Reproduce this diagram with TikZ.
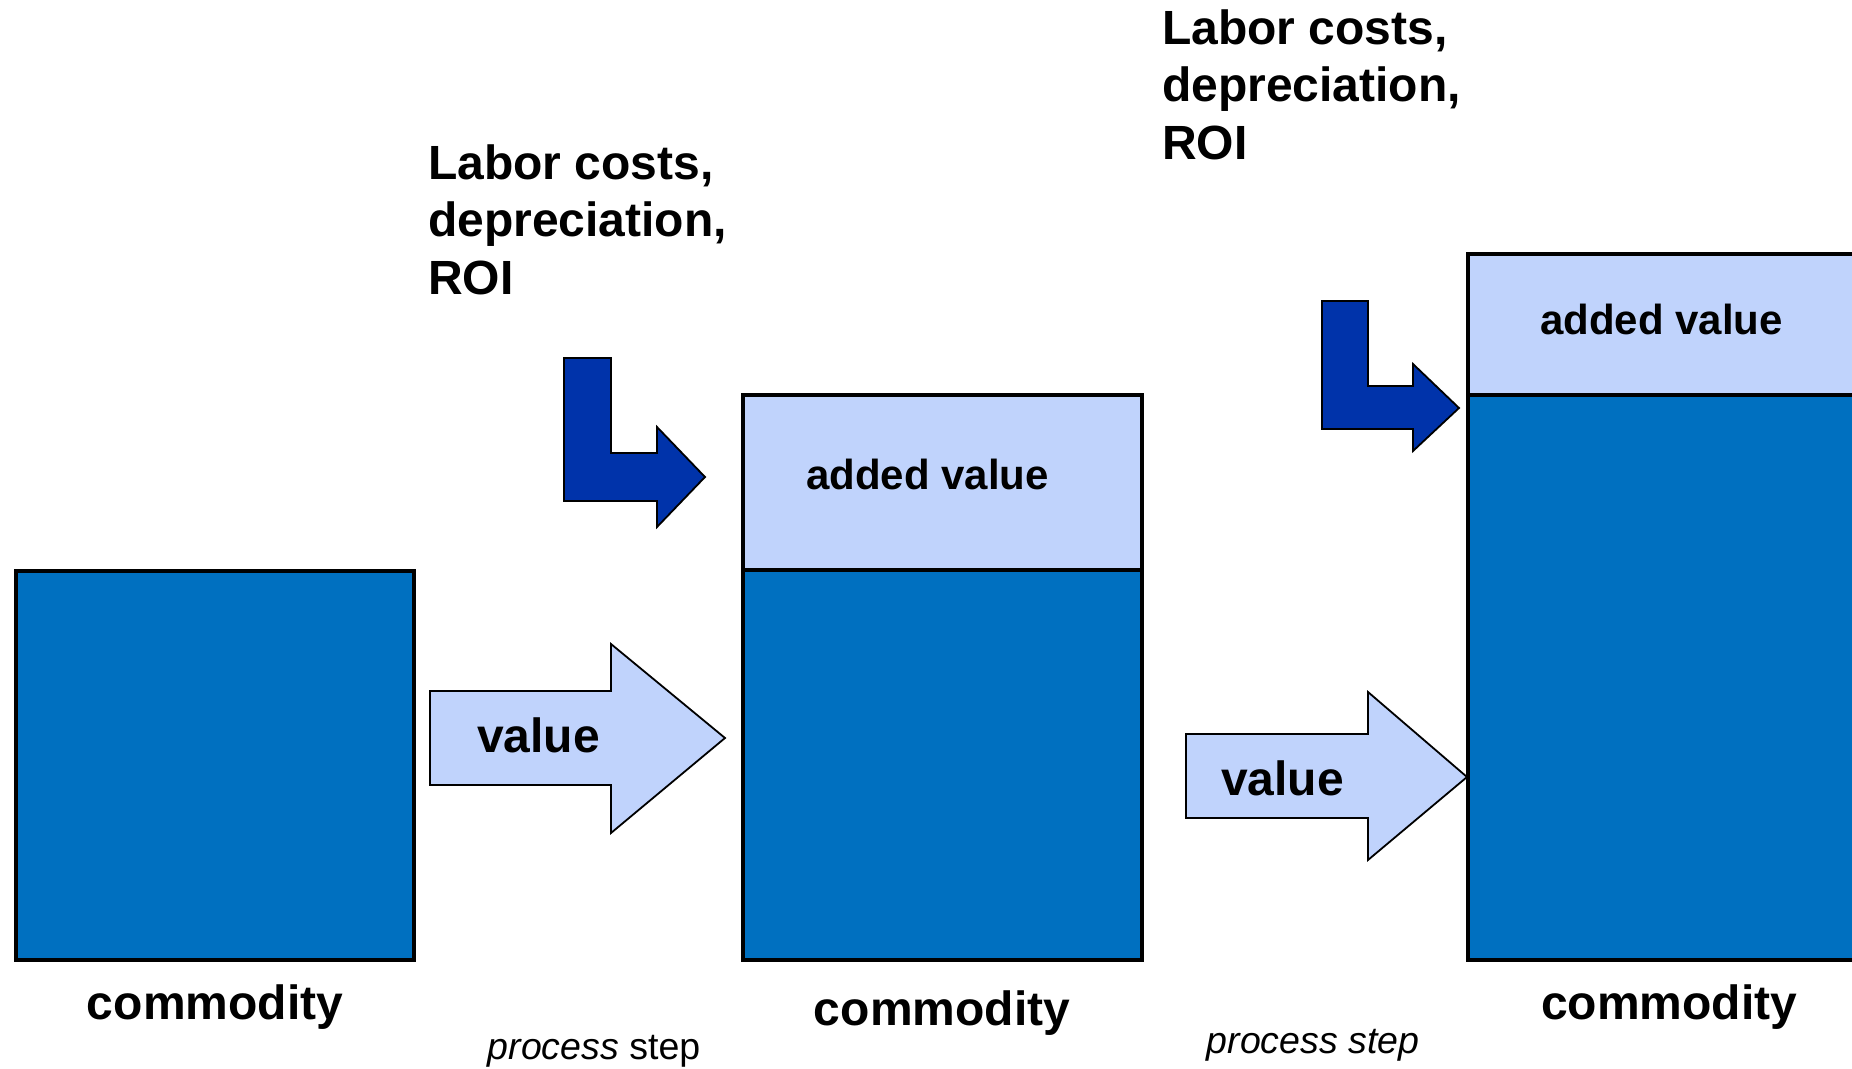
\documentclass[tikz,border=0pt]{standalone}
\usepackage{fontspec}
\setmainfont{Liberation Sans}
\definecolor{darkfill}{HTML}{0070C0}
\definecolor{lightfill}{HTML}{C0D3FC}
\definecolor{bentfill}{HTML}{0033AA}
\begin{document}
\begin{tikzpicture}[x=1pt,y=-1pt,
  box/.style={draw=black,line width=4pt,fill=darkfill,rectangle,inner sep=0pt,outer sep=0pt,anchor=north west},
  topbox/.style={draw=black,line width=4pt,fill=lightfill,rectangle,inner sep=0pt,outer sep=0pt,anchor=north west},
  fatarrow/.style={draw=black,line width=1.8pt,fill=lightfill,line join=miter},
  bentarrow/.style={draw=black,line width=1.8pt,fill=bentfill,line join=miter},
  big/.style={font=\fontsize{48}{57.5}\selectfont\bfseries,inner sep=0pt},
  addv/.style={font=\fontsize{42}{50}\selectfont\bfseries,inner sep=0pt},
  small/.style={font=\fontsize{37.5}{42}\selectfont,inner sep=0pt}]
\useasboundingbox[fill=white] (0,0) rectangle (1852,1068);

% boxes
\node[box,minimum width=398pt,minimum height=389pt] (c1) at (16,571) {};
\node[box,minimum width=399pt,minimum height=390pt] (c2) at (743,570) {};
\node[topbox,minimum width=399pt,minimum height=175pt] (a2) at (743,395) {};
\node[box,minimum width=420pt,minimum height=565pt] (c3) at (1468,395) {};
\node[topbox,minimum width=420pt,minimum height=141pt] (a3) at (1468,254) {};

% value arrows
\draw[fatarrow] (430,691) -- (611,691) -- (611,644) -- (725,738) -- (611,833) -- (611,785) -- (430,785) -- cycle;
\draw[fatarrow] (1186,734) -- (1368,734) -- (1368,692) -- (1467,777) -- (1368,860) -- (1368,818) -- (1186,818) -- cycle;

% bent arrows
\draw[bentarrow] (564,358) -- (611,358) -- (611,453) -- (657,453) -- (657,427) -- (705,477) -- (657,527) -- (657,501) -- (564,501) -- cycle;
\draw[bentarrow] (1322,301) -- (1368,301) -- (1368,386) -- (1413,386) -- (1413,364) -- (1459,408) -- (1413,451) -- (1413,429) -- (1322,429) -- cycle;

% texts
\node[big,anchor=base west] (v1) at (477,752) {value};
\node[big,anchor=base west] (v2) at (1221,795) {value};
\node[big,align=left,anchor=base west] (l1) at (428,294) {Labor costs,\\depreciation,\\ROI};
\node[big,align=left,anchor=base west] (l2) at (1162,159) {Labor costs,\\depreciation,\\ROI};
\node[addv,anchor=base west] (t2) at (806,489) {added value};
\node[addv,anchor=base west] (t3) at (1540,334) {added value};
\node[big,anchor=base] (k1) at (215,1019) {commodity};
\node[big,anchor=base] (k2) at (942,1025) {commodity};
\node[big,anchor=base] (k3) at (1669,1019) {commodity};
\node[small,anchor=base] (p1) at (594,1059) {\itshape process\upshape{} step};
\node[small,anchor=base] (p2) at (1313,1053) {\itshape process step};
\end{tikzpicture}
\end{document}
